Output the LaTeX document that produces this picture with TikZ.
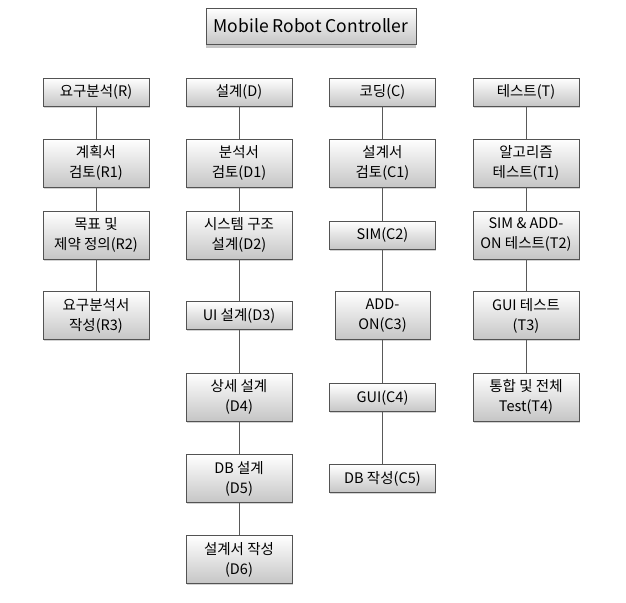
\documentclass[tikz,border=0pt]{standalone}
\usepackage{fontspec}
\setmainfont{Noto Sans CJK KR}
\usetikzlibrary{shadows}
\tikzset{
  box/.style={draw=gray!65!black, line width=.6pt, top color=white, bottom color=gray!45,
    minimum width=106pt, minimum height=28pt, inner sep=0pt, align=center,
    font=\fontsize{14.5}{20}\selectfont,
    drop shadow={shadow xshift=.8pt, shadow yshift=-1.5pt, opacity=.35}},
  tall/.style={box, minimum height=48pt},
  link/.style={gray!70!black, line width=.6pt}
}
\begin{document}
\begin{tikzpicture}[x=1pt, y=-1pt]
\useasboundingbox (0,0) rectangle (626,602);
% title
\node[box, minimum width=210pt, minimum height=36pt, font=\fontsize{17.5}{20}\selectfont,
  drop shadow={shadow xshift=0pt, shadow yshift=-4pt, opacity=.45}] (top) at (311,26) {Mobile Robot Controller};

% requirements
\node[box]  (R)  at (96,92)    {요구분석(R)};
\node[tall] (R1) at (96,163)   {계획서\\검토(R1)};
\node[tall] (R2) at (96,235)   {목표 및\\제약 정의(R2)};
\node[tall] (R3) at (96,315.5) {요구분석서\\작성(R3)};

% design
\node[box]  (D)  at (239,92)    {설계(D)};
\node[tall] (D1) at (239,163)   {분석서\\검토(D1)};
\node[tall] (D2) at (239,235)   {시스템 구조\\설계(D2)};
\node[box]  (D3) at (239,315.5) {UI 설계(D3)};
\node[tall] (D4) at (239,397)   {상세 설계\\(D4)};
\node[tall] (D5) at (239,478.5) {DB 설계\\(D5)};
\node[tall] (D6) at (239,559.5) {설계서 작성\\(D6)};

% coding
\node[box]  (C)  at (382.5,92)    {코딩(C)};
\node[tall] (C1) at (382.5,163)   {설계서\\검토(C1)};
\node[box]  (C2) at (382.5,235)   {SIM(C2)};
\node[tall, minimum width=95pt] (C3) at (382.5,315.5) {ADD-\\ON(C3)};
\node[box]  (C4) at (382.5,397.5) {GUI(C4)};
\node[box]  (C5) at (382.5,478.5) {DB 작성(C5)};

% test
\node[box]  (T)  at (526,92)    {테스트(T)};
\node[tall] (T1) at (526,163)   {알고리즘\\테스트(T1)};
\node[tall] (T2) at (526,235)   {SIM \& ADD-\\ON 테스트(T2)};
\node[tall] (T3) at (526,315.5) {GUI 테스트\\(T3)};
\node[tall] (T4) at (526,397)   {통합 및 전체\\Test(T4)};

\foreach \a/\b in {R/R1,R1/R2,R2/R3,D/D1,D1/D2,D2/D3,D3/D4,D4/D5,D5/D6,
  C/C1,C1/C2,C2/C3,C3/C4,C4/C5,T/T1,T1/T2,T2/T3,T3/T4}
  \draw[link] (\a) -- (\b);
\end{tikzpicture}
\end{document}
